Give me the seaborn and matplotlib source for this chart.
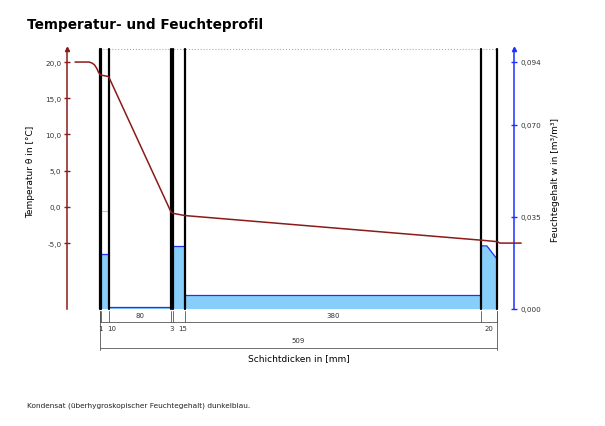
import matplotlib
matplotlib.use("Agg")
import matplotlib.pyplot as plt
import seaborn as sns
import numpy as np

# layer build-up, inside (left) to outside (right), thickness in mm
layer_thickness = [1, 10, 80, 3, 15, 380, 20]
# moisture content per layer in m3/m3
layer_moisture = [0.011, 0.0209, 0.0007, 0.094, 0.0241, 0.0054, 0.024]
# last layer: moisture falls off towards the outside
last_layer_x = [489, 496, 509]
last_layer_w = [0.024, 0.024, 0.019]
# light marker line in the 10 mm layer
marker_layer = 1
marker_w = 0.0374

# temperature profile (x in mm from inner surface)
temp_x = [-32, -14, -10, -7, -4, -2, 0, 1, 11, 91, 94, 109, 489, 509, 513, 540]
temp_y = [20.0, 20.0, 19.85, 19.6, 19.1, 18.6, 18.3, 18.2, 18.0, -0.7, -0.9, -1.2,
          -4.6, -4.8, -5.0, -5.0]

temp_ticks = [-5, 0, 5, 10, 15, 20]
moist_ticks = [0.0, 0.035, 0.070, 0.094]

# --- layout (pixels of the 605x427 picture) ---
W, H = 605, 427
PX_MM = 0.78      # pixels per mm
X0 = 100          # pixel of x = 0 mm
Y_BOT, Y_TOP = 310, 50
xlim = (-50, 545)
t_lim = (-14.1, 21.8)
w_lim = (0.0, 0.0989)

red = "#8b1a1a"
blue = "#1f2fff"
fill_blue = "#87cefa"
grey = "#555555"
txt = "#333333"

sns.set_theme(style="white")
plt.rcParams["font.family"] = ["DejaVu Sans"]

fig = plt.figure(figsize=(W / 100, H / 100), dpi=100)
left_px = X0 + xlim[0] * PX_MM
right_px = X0 + xlim[1] * PX_MM
ax = fig.add_axes([left_px / W, (H - Y_BOT) / H, (right_px - left_px) / W, (Y_BOT - Y_TOP) / H])
ax.set_xlim(*xlim)
ax.set_ylim(*t_lim)
ax2 = ax.twinx()
ax2.set_ylim(*w_lim)
ax2.set_xlim(*xlim)
# temperature axes on top of the moisture fills
ax.set_zorder(ax2.get_zorder() + 1)
ax.patch.set_visible(False)

bounds = np.concatenate([[0], np.cumsum(layer_thickness)])
total = bounds[-1]

# moisture fill per layer
for i, (a, b) in enumerate(zip(bounds[:-1], bounds[1:])):
    if i == len(layer_thickness) - 1:
        ax2.fill_between(last_layer_x, 0, last_layer_w, color=fill_blue, lw=0)
        ax2.plot(last_layer_x, last_layer_w, color=blue, lw=0.9)
    else:
        w = layer_moisture[i]
        ax2.fill_between([a, b], 0, w, color=fill_blue, lw=0)
        ax2.plot([a, b], [w, w], color=blue, lw=0.9)
    if i == marker_layer:
        ax2.plot([a, b], [marker_w, marker_w], color="#9ccaf2", lw=0.8)

# dotted top line and layer boundaries
ax.plot([0, total], [t_lim[1], t_lim[1]], color="#aaaaaa", lw=0.8, ls=":", clip_on=False)
for b in bounds:
    ax.plot([b, b], t_lim, color="black", lw=1.6, clip_on=False, zorder=4)

# temperature curve
sns.lineplot(x=temp_x, y=temp_y, ax=ax, color=red, lw=1.1, zorder=5)

# axes styling
for s in ax.spines.values():
    s.set_visible(False)
for s in ax2.spines.values():
    s.set_visible(False)
left_x = (67 - X0) / PX_MM
right_x = (514 - X0) / PX_MM
ax.spines["left"].set_visible(True)
ax.spines["left"].set_position(("data", left_x))
ax.spines["left"].set_color(red)
ax.spines["left"].set_linewidth(1.1)
ax2.spines["right"].set_visible(True)
ax2.spines["right"].set_position(("data", right_x))
ax2.spines["right"].set_color(blue)
ax2.spines["right"].set_linewidth(1.1)

ax.set_xticks([])
ax.set_yticks(temp_ticks)
ax.set_yticklabels([f"{v:.1f}".replace(".", ",") for v in temp_ticks], fontsize=5.2, color=txt)
ax.tick_params(axis="y", left=True, direction="inout", length=4, width=1, color=red, pad=2)
ax2.set_yticks(moist_ticks)
ax2.set_yticklabels([f"{v:.3f}".replace(".", ",") for v in moist_ticks], fontsize=5.2, color=txt)
ax2.tick_params(axis="y", right=True, direction="inout", length=4, width=1, color=blue, pad=3)

ax.plot([left_x], [t_lim[1]], marker="^", color=red, ms=3, clip_on=False)
ax2.plot([right_x], [w_lim[1]], marker="^", color=blue, ms=3, clip_on=False)

ax.set_ylabel("Temperatur θ in [°C]", fontsize=6.5, color="black")
ax.yaxis.set_label_coords((35 - left_px) / (right_px - left_px), (Y_BOT - 172) / (Y_BOT - Y_TOP))
ax2.set_ylabel("Feuchtegehalt w in [m³/m³]", fontsize=6.5, color="black")
ax2.yaxis.set_label_coords((551 - left_px) / (right_px - left_px), 0.5)

# dimension lines below the section
tr = ax.get_xaxis_transform()


def fy(ypx):
    return (Y_BOT - ypx) / (Y_BOT - Y_TOP)


for b in bounds:
    ax.plot([b, b], [fy(312), fy(323)], color=grey, lw=0.6, transform=tr, clip_on=False)
for b in [0, total]:
    ax.plot([b, b], [fy(312), fy(351)], color=grey, lw=0.6, transform=tr, clip_on=False)
ax.plot([0, total], [fy(323), fy(323)], color=grey, lw=0.6, transform=tr, clip_on=False)
ax.plot([0, total], [fy(349), fy(349)], color=grey, lw=0.6, transform=tr, clip_on=False)

last_small = -1e9
for a, b, t in zip(bounds[:-1], bounds[1:], layer_thickness):
    if t >= 40:
        ax.text((a + b) / 2, fy(316), str(t), transform=tr, ha="center", va="center",
                fontsize=5, color=txt)
    else:
        xm = max((a + b) / 2, last_small + 11 / PX_MM)
        last_small = xm
        ax.text(xm, fy(329), str(t), transform=tr, ha="center", va="center",
                fontsize=5, color=txt)
ax.text(total / 2, fy(341), str(total), transform=tr, ha="center", va="center",
        fontsize=5, color=txt)
ax.text(total / 2, fy(359), "Schichtdicken in [mm]", transform=tr, ha="center",
        va="center", fontsize=6.5, color="black")

fig.text(27 / W, 1 - 25 / H, "Temperatur- und Feuchteprofil", fontsize=9.8,
         fontweight="bold", ha="left", va="center", color="black")
fig.text(27 / W, 1 - 406 / H, "Kondensat (überhygroskopischer Feuchtegehalt) dunkelblau.",
         fontsize=5.3, ha="left", va="center", color="#222222")

fig.savefig("out.png", dpi=100)
